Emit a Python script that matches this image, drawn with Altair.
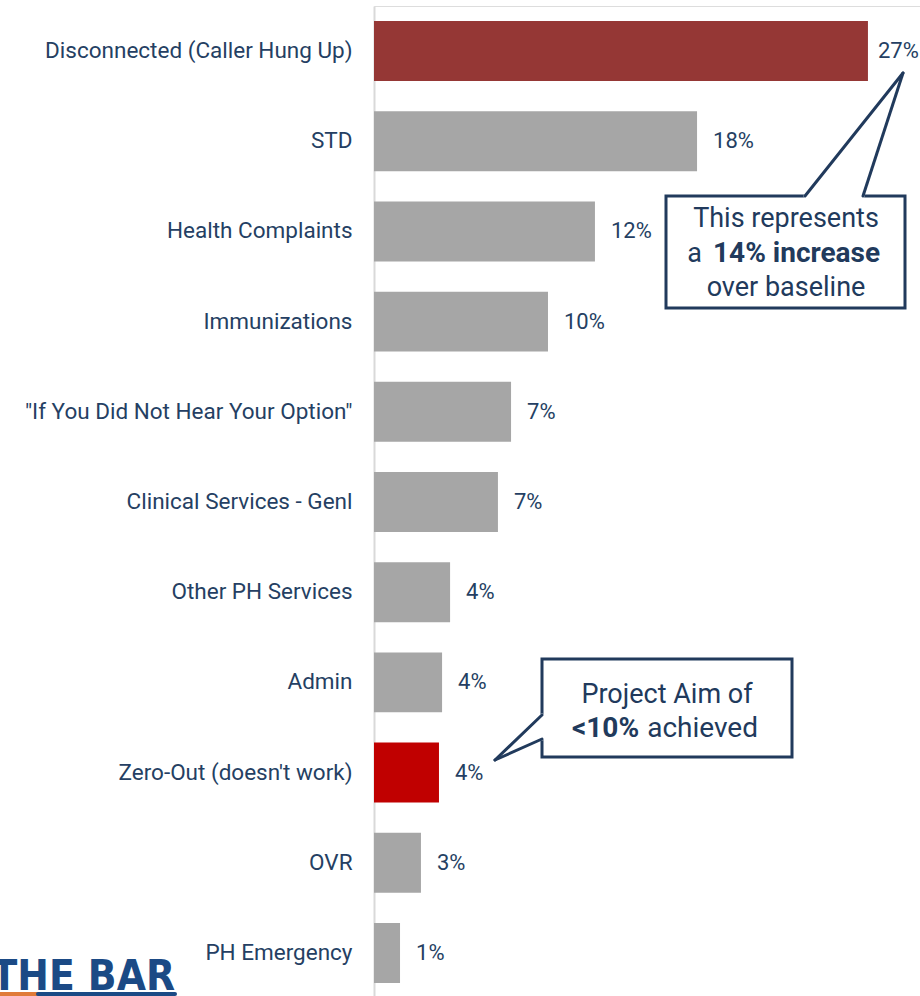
import altair as alt
import pandas as pd

categories = [
    "Disconnected (Caller Hung Up)", "STD", "Health Complaints", "Immunizations",
    '"If You Did Not Hear Your Option"', "Clinical Services - Genl",
    "Other PH Services", "Admin", "Zero-Out (doesn't work)", "OVR", "PH Emergency",
]
values = [27.14, 17.75, 12.14, 9.56, 7.53, 6.81, 4.18, 3.74, 3.57, 2.58, 1.43]
labels = ["27%", "18%", "12%", "10%", "7%", "7%", "4%", "4%", "4%", "3%", "1%"]

GRAY = "#a6a6a6"
highlight = {"Disconnected (Caller Hung Up)": "#953735", "Zero-Out (doesn't work)": "#c00000"}
bar_colors = [highlight.get(c, GRAY) for c in categories]

NAVY = "#213a5c"
TEXT = "#253f63"
FONT = "Roboto"

df = pd.DataFrame({"cat": categories, "val": values, "lab": labels})

W, H = 546, 992

y_enc = alt.Y(
    "cat:N", sort=categories, title=None,
    scale=alt.Scale(paddingInner=0.335, paddingOuter=0.1675),
    axis=alt.Axis(ticks=False, labelPadding=22, labelFontSize=22.5, labelFont=FONT,
                  labelColor=TEXT, domainColor="#d9d9d9", domainWidth=2, labelLimit=400),
)
x_enc = alt.X("val:Q", axis=None, scale=alt.Scale(domain=[0, 30]))

bars = alt.Chart(df).mark_bar().encode(
    x=x_enc, y=y_enc,
    color=alt.Color("cat:N", scale=alt.Scale(domain=categories, range=bar_colors), legend=None),
)
texts = alt.Chart(df).transform_filter(alt.datum.val < 25).mark_text(
    align="left", dx=16, fontSize=22, font=FONT, color=TEXT).encode(
    x=x_enc, y=alt.Y("cat:N", sort=categories), text="lab:N")
texts_top = alt.Chart(df).transform_filter(alt.datum.val >= 25).mark_text(
    align="left", dx=10, fontSize=22, font=FONT, color=TEXT).encode(
    x=x_enc, y=alt.Y("cat:N", sort=categories), text="lab:N")

one = pd.DataFrame({"a": [0]})

def rect(x, x2, y, y2):
    return alt.Chart(one).mark_rect(fill="white", stroke=NAVY, strokeWidth=3).encode(
        x=alt.value(x), x2=alt.value(x2), y=alt.value(y), y2=alt.value(y2))

def rule(x, y, x2, y2, color=NAVY, w=3):
    return alt.Chart(one).mark_rule(color=color, strokeWidth=w, strokeCap="round").encode(
        x=alt.value(x), y=alt.value(y), x2=alt.value(x2), y2=alt.value(y2))

def txt(s, x, y, align="center", bold=False, size=27):
    return alt.Chart(one).mark_text(
        text=s, align=align, baseline="alphabetic", fontSize=size, font=FONT,
        fontWeight="bold" if bold else "normal", color=NAVY,
    ).encode(x=alt.value(x), y=alt.value(y))

# callout 1 (plot-relative pixels)
c1 = [
    rect(292, 531, 190, 302),
    rule(432, 190, 488, 190, color="white", w=5),
    rule(431, 190, 529, 67),
    rule(489, 190, 529, 67),
    txt("This represents", 412, 221),
    txt("a", 328, 256, align="right"),
    txt("14% increase", 339, 256, align="left", bold=True, size=28),
    txt("over baseline", 412, 290),
]
# callout 2
c2 = [
    rect(168, 418, 653, 751),
    rule(168, 710, 168, 732, color="white", w=5),
    rule(168, 709, 121, 754),
    rule(168, 733, 121, 754),
    txt("Project Aim of", 293, 697),
    txt("<10%", 198, 731, align="left", bold=True, size=28),
    txt("achieved", 384, 731, align="right", size=28),
]
# logo
logo = [
    alt.Chart(one).mark_text(text="THE BAR", align="right", baseline="alphabetic", fontSize=42,
                             font="DejaVu Sans Condensed, Liberation Sans Narrow, DejaVu Sans",
                             fontWeight="bold", color="#1b4a85"
                             ).encode(x=alt.value(-199), y=alt.value(984)),
    rule(-374, 988, -336, 988, color="#e07b39", w=4),
    rule(-336, 988, -199, 988, color="#1b4a85", w=4),
]

chart = alt.layer(bars, texts, texts_top, *c1, *c2, *logo).properties(
    width=W, height=H,
    autosize=alt.AutoSizeParams(type="none"),
    padding={"left": 374, "top": 6, "right": 0, "bottom": 0},
).configure_view(stroke=None).configure(background="white")

chart.save("out.html", embed_options={"renderer": "svg", "actions": False})
